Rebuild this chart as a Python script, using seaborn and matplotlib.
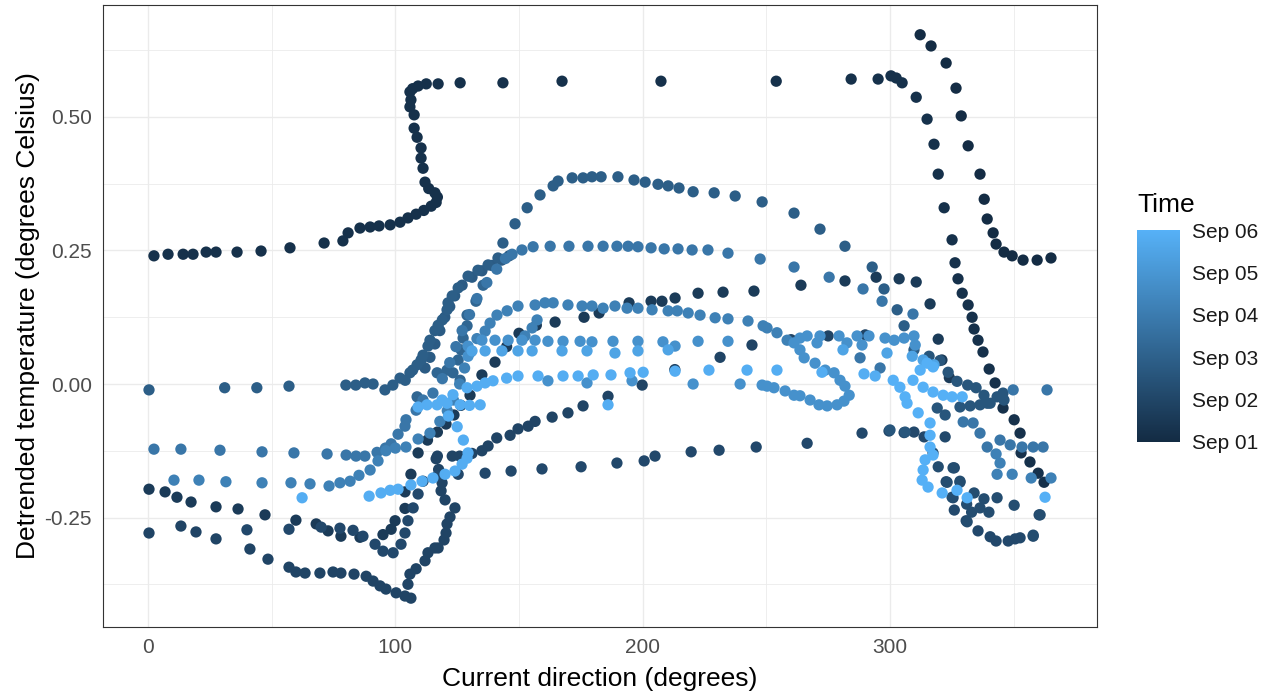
import numpy as np
import pandas as pd
import matplotlib
matplotlib.use("Agg")
import matplotlib.pyplot as plt
import seaborn as sns
from matplotlib.colors import LinearSegmentedColormap, Normalize
import matplotlib.colorbar as mcolorbar

# ---------------- data (direction in degrees, detrended temperature, time in days after Sep 01) -------------
seg_a_time = 0.05
seg_a = [(312.2,0.654),(316.6,0.633),(322.7,0.601),(326.7,0.554),(328.8,0.502),(331.6,0.446),(336.4,0.393),
         (338.1,0.346),(339.3,0.309),(341.7,0.283),(342.9,0.262),(346.1,0.247),(349.4,0.240),(353.8,0.232),
         (359.5,0.232),(365.1,0.236)]

seg_b_time = 0.25
seg_b = [(2.4,0.240),(8.1,0.243),(14.2,0.243),(18.2,0.243),(23.5,0.247),(27.5,0.247),(36.0,0.247),(45.7,0.249),
         (57.4,0.255),(71.2,0.264),(78.8,0.268),(80.9,0.283),(85.7,0.292),(89.8,0.294),(93.4,0.296),(97.9,0.298),
         (101.9,0.303),(105.1,0.311),(108.4,0.318),(111.5,0.325),(114.5,0.333),(116.5,0.340),(117.0,0.350),
         (116.0,0.358),(113.5,0.366),(112.0,0.378),(111.2,0.404),(110.4,0.423),(110.4,0.442),(108.8,0.462),
         (107.6,0.479),(107.6,0.504),(105.9,0.519),(106.3,0.532),(105.9,0.547),(107.0,0.553),(109.2,0.558),
         (112.5,0.562),(117.3,0.562),(126.2,0.564),(143.5,0.564),(167.4,0.567),(207.4,0.567),(254.0,0.567),
         (284.3,0.571),(295.2,0.571),(300.4,0.577),(302.5,0.573),(304.9,0.564),(310.6,0.537),(315.0,0.496),
         (317.8,0.449),(319.5,0.393),(321.9,0.330),(325.1,0.270),(326.3,0.227),(327.5,0.197),(329.2,0.170),
         (331.6,0.148),(333.2,0.125),(334.0,0.103),(335.6,0.082),(337.6,0.060),(340.1,0.028),(342.5,0.002),
         (345.7,-0.045),(350.2,-0.067),(352.6,-0.092),(353.0,-0.129),(356.6,-0.146),(359.9,-0.167),(362.3,-0.184)]

seg_c_time = 0.6
seg_c = [(0.4,-0.197),(6.9,-0.202),(11.7,-0.212),(17.4,-0.221),(27.5,-0.230),(36.4,-0.234),(47.3,-0.245),
         (59.8,-0.255),(68.0,-0.262),(72.8,-0.275),(78.0,-0.285),(85.7,-0.287),(95.0,-0.282),(98.3,-0.272),
         (99.9,-0.256),(103.9,-0.233),(103.9,-0.202),(106.3,-0.169),(109.2,-0.129),(113.0,-0.105),(117.0,-0.090),
         (120.5,-0.075),(123.7,-0.058),(126.5,-0.040),(130.2,-0.021),(135.0,0.017),(140.3,0.041),(145.0,0.070),
         (150.0,0.095),(157.0,0.110),(164.6,0.116),(176.3,0.125),(182.4,0.133),(194.5,0.152),(203.4,0.155),
         (207.8,0.155),(213.1,0.161),(222.4,0.170),(232.5,0.172),(245.0,0.174),(264.0,0.185),(281.8,0.193),
         (294.4,0.200),(303.7,0.197),(310.6,0.191),(316.2,0.150),(319.5,0.084),(321.0,0.045),(324.0,0.012)]

seg_d_time = 0.95
seg_d = [(0.4,-0.279),(13.3,-0.266),(19.4,-0.277),(27.5,-0.290),(41.2,-0.309),(48.5,-0.328),(57.0,-0.343),
         (59.8,-0.352),(63.5,-0.354),(69.5,-0.354),(74.8,-0.352),(78.0,-0.354),(83.3,-0.356),(88.2,-0.360),
         (91.0,-0.369),(93.8,-0.378),(96.2,-0.384),(100.3,-0.391),(103.9,-0.397),(106.3,-0.401),(105.1,-0.375),
         (105.9,-0.356),(108.4,-0.346),(112.0,-0.331),(113.2,-0.316),(116.0,-0.307),(117.3,-0.307),(119.7,-0.292),
         (120.5,-0.279),(120.9,-0.262),(122.1,-0.249),(124.1,-0.232),(120.1,-0.217),(118.5,-0.200),(118.9,-0.185),
         (117.5,-0.160),(116.5,-0.140),(117.0,-0.135),(123.0,-0.135),(126.0,-0.135),(131.0,-0.130),(135.0,-0.125),
         (137.5,-0.116),(141.0,-0.101),(146.4,-0.096),(149.6,-0.084),(153.7,-0.079),(156.5,-0.070),(163.4,-0.062),
         (169.8,-0.054),(175.9,-0.041),(186.0,-0.023),(199.8,-0.002),(213.0,0.027),(231.3,0.050),(244.2,0.073),
         (260.0,0.083),(275.0,0.090),(290.0,0.092)]

seg_e_time = 1.1
seg_e = [(40.0,-0.273),(57.0,-0.272),(70.0,-0.268),(77.6,-0.270),(82.9,-0.274),(86.9,-0.285),(91.8,-0.300),
         (95.0,-0.313),(99.1,-0.316),(102.3,-0.300),(103.9,-0.279),(105.1,-0.256),(107.2,-0.232),(109.2,-0.206),
         (111.2,-0.182),(117.0,-0.172),(125.4,-0.169),(136.3,-0.167),(146.8,-0.163),(159.3,-0.159),(175.1,-0.155),
         (189.6,-0.148),(200.6,-0.144),(205.0,-0.135),(219.6,-0.127),(230.9,-0.124),(245.9,-0.118),(266.5,-0.111),
         (288.7,-0.092),(299.6,-0.088),(305.7,-0.091),(309.7,-0.090),(313.8,-0.099),(322.3,-0.099),(326.0,-0.157),
         (322.7,-0.183),(325.5,-0.213),(326.0,-0.236),(330.8,-0.256),(335.6,-0.275),(340.5,-0.286),(342.9,-0.294),
         (347.8,-0.294),(350.6,-0.290),(352.6,-0.288),(357.9,-0.285),(360.3,-0.245)]

seg_f_time = 1.25
seg_f = [(331.0,-0.225),(333.0,-0.240),(336.4,-0.232),(334.0,-0.204),(328.3,-0.182),(338.0,-0.215),(340.0,-0.240),
         (343.3,-0.213),(350.2,-0.227),(360.7,-0.245),(317.4,-0.129),(319.5,-0.155),(325.5,-0.157),(323.1,-0.184),
         (328.3,-0.184),(325.1,-0.212),(331.2,-0.258),(357.9,-0.283)]

seg_g_time = 1.6
seg_g = [(315.8,0.052),(320.2,0.044),(323.5,0.022),(327.1,0.005),(331.4,-0.002),(334.8,-0.007),(338.0,-0.021),
         (339.3,-0.036),(343.3,-0.024),(345.7,-0.017),(346.1,-0.030),(328.3,-0.043),(332.4,-0.041),(336.4,-0.039),
         (340.5,-0.036),(319.1,-0.045),(322.3,-0.058),(300.0,-0.086),(306.1,-0.090)]

seg_h_time = 1.9
seg_h = [(0.4,-0.011),(31.0,-0.007),(44.0,-0.007),(57.0,-0.004),(80.0,-0.002),(84.0,-0.002),(87.7,0.002),
         (91.0,0.000),(95.8,-0.011),(99.0,-0.002),(101.9,0.011),(104.0,0.007),(105.9,0.021),(107.0,0.026),
         (108.8,0.036),(110.4,0.045),(111.2,0.054),(113.2,0.071),(114.0,0.082),(116.0,0.100),(117.3,0.110),
         (119.0,0.120),(120.9,0.139),(121.3,0.152),(123.0,0.165),(125.4,0.180),(129.4,0.202),(133.4,0.213),
         (137.5,0.223),(141.5,0.236),(143.5,0.264),(148.4,0.300),(153.3,0.330),(158.5,0.354),(163.8,0.371),
         (165.8,0.380),(171.5,0.386),(175.9,0.386),(179.5,0.388),(183.2,0.388),(190.0,0.388),(196.5,0.382),
         (201.0,0.378),(206.2,0.374),(210.3,0.371),(214.7,0.367),(220.4,0.360),(228.9,0.358),(237.4,0.352),
         (248.3,0.341),(261.2,0.320),(271.7,0.290),(281.8,0.258),(292.8,0.219),(297.6,0.178),(302.9,0.139),
         (305.7,0.109),(309.7,0.064)]

seg_h2_time = 1.8
seg_h2 = [(112.0,0.030),(114.0,0.050),(116.0,0.075),(118.0,0.100),(120.0,0.125),(122.0,0.145),(124.0,0.165),
          (127.0,0.185),(131.0,0.200),(135.0,0.212),(139.0,0.222),(143.0,0.232),(146.0,0.240)]

seg_i_time = 2.2
seg_i = [(108.8,-0.024),(116.9,0.021),(120.9,0.026),(123.3,0.021),(126.2,0.007),(125.4,0.045),(126.6,0.064),
         (127.4,0.086),(129.0,0.109),(129.0,0.129),(132.6,0.155),(135.5,0.185)]

seg_j_time = 2.8
seg_j = [(2.4,-0.122),(13.3,-0.122),(29.1,-0.124),(46.1,-0.127),(59.0,-0.129),(72.4,-0.131),(80.1,-0.133),
         (84.1,-0.135),(87.7,-0.135),(92.6,-0.128),(96.0,-0.120),(98.3,-0.112),(101.1,-0.094),(103.9,-0.079),
         (104.3,-0.067),(108.4,-0.049),(111.2,-0.030),(115.2,-0.017),(119.0,0.010),(122.0,0.040),(124.5,0.070),
         (127.0,0.100),(130.0,0.130),(133.0,0.160),(137.0,0.190),(141.0,0.215),(144.5,0.235),(147.2,0.243),
         (151.2,0.251),(155.7,0.257),(162.6,0.258),(170.2,0.258),(177.9,0.258),(184.0,0.258),(189.6,0.258),
         (194.1,0.258),(198.1,0.257),(203.4,0.255),(208.7,0.253),(214.3,0.253),(220.0,0.251),(226.4,0.251),
         (234.5,0.245),(247.5,0.234),(261.2,0.219),(275.4,0.200),(289.1,0.178),(296.8,0.155),(309.3,0.131),
         (287.9,0.049),(296.0,0.030),(329.6,-0.071),(333.6,-0.073),(336.4,-0.092),(339.3,-0.118),(344.5,-0.105),
         (348.6,-0.114),(353.4,-0.118),(357.9,-0.118),(361.9,-0.118),(349.8,-0.011),(363.5,-0.011)]

seg_k_time = 3.2
seg_k = [(10.5,-0.180),(20.6,-0.180),(31.5,-0.183),(46.1,-0.185),(57.8,-0.185),(65.5,-0.187),(73.2,-0.191),
         (77.6,-0.185),(81.7,-0.182),(85.3,-0.171),(89.8,-0.161),(93.0,-0.144),(96.2,-0.125),(100.0,-0.120),
         (104.3,-0.118),(109.2,-0.103),(114.0,-0.092),(118.0,-0.070),(121.0,-0.050),(123.5,-0.030),(126.0,0.000),
         (128.0,0.030),(130.5,0.060),(133.0,0.085),(136.3,0.099),(138.3,0.114),(141.1,0.129),(145.2,0.137),
         (149.6,0.146),(156.5,0.148),(160.5,0.152),(163.8,0.152),(169.8,0.148),(175.5,0.146),(179.5,0.146),
         (184.0,0.142),(188.8,0.146),(193.7,0.142),(198.1,0.142),(203.8,0.139),(210.3,0.137),(214.0,0.137),
         (218.4,0.133),(223.2,0.129),(229.3,0.124),(234.5,0.122),(242.6,0.118),(248.7,0.109),(250.3,0.105),
         (254.3,0.096),(258.4,0.082),(152.4,0.090),(155.3,0.105),(157.3,0.120),
         (342.9,-0.131),(344.5,-0.148),(343.3,-0.169),(349.4,-0.169),(357.1,-0.176),(365.1,-0.176)]

seg_l_time = 3.8
seg_l = [(129.4,0.052),(129.4,0.071),(135.0,0.082),(140.3,0.082),(145.6,0.082),(151.2,0.082),(156.5,0.082),
         (161.7,0.080),(167.8,0.080),(174.7,0.080),(179.5,0.079),(188.0,0.080),(198.1,0.080),(208.2,0.079),
         (213.1,0.071),(222.4,0.080),(234.5,0.080),(261.2,0.077),(263.6,0.086),(266.5,0.090),(270.5,0.077),
         (271.7,0.090),(279.4,0.090),(282.6,0.077),(286.7,0.090),(288.7,0.073),(291.5,0.090),(298.0,0.086),
         (301.7,0.082),(305.7,0.086),(309.7,0.090),(310.2,0.073),
         (161.7,0.006),(177.5,0.002),(195.7,0.006),(220.4,0.000),(239.4,0.000),(248.3,-0.002),(250.3,-0.004),
         (253.1,-0.007),(257.6,-0.013),(261.2,-0.021),(263.6,-0.022),(267.7,-0.030),(271.3,-0.039),(274.6,-0.041),
         (278.6,-0.039),(281.4,-0.032),(283.5,-0.021),(281.8,-0.004),(279.8,0.007),(277.4,0.021),(273.8,0.026),
         (269.7,0.039),(265.3,0.049),(263.6,0.064)]

seg_m_time = 4.5
seg_m = [(131.0,0.062),(136.3,0.062),(143.1,0.062),(149.6,0.062),(155.3,0.062),(167.4,0.062),(177.5,0.062),
         (188.8,0.058),(198.1,0.062),(210.3,0.064),(281.0,0.064),(298.8,0.058),(309.0,0.052),(313.4,0.045),
         (317.8,0.036)]

seg_n_time = 4.85
seg_n = [(62.3,-0.213),(89.4,-0.210),(94.2,-0.204),(97.9,-0.199),(101.1,-0.197),(106.3,-0.189),(110.8,-0.182),
         (115.2,-0.176),(120.1,-0.169),(124.1,-0.163),(127.0,-0.150),(129.0,-0.139),(129.4,-0.129),(127.5,-0.105),
         (125.0,-0.080),(121.5,-0.060),
         (109.2,-0.043),(112.8,-0.039),(116.9,-0.039),(120.9,-0.036),(126.2,-0.039),(130.0,-0.040),(134.3,-0.039),
         (118.9,-0.030),(123.3,-0.020),(129.0,-0.007),(133.0,-0.004),(136.3,0.002),(139.5,0.006),(145.0,0.011),
         (149.6,0.015),(157.7,0.015),(167.8,0.015),(173.9,0.015),(180.0,0.017),(187.2,0.017),(194.9,0.021),
         (200.2,0.022),(213.1,0.024),(226.8,0.026),(242.2,0.026),(254.3,0.026),(272.5,0.022),(289.5,0.019),
         (294.0,0.015),(186.0,-0.039)]

seg_o_time = 4.95
seg_o = [(301.3,0.007),(304.0,-0.006),(306.1,-0.024),(306.9,-0.036),(309.3,0.007),(312.2,0.026),(315.0,0.039),
         (317.4,0.032),(313.4,-0.006),(317.4,-0.015),(321.5,-0.021),(325.1,-0.024),(329.2,-0.024),(311.4,-0.054),
         (316.2,-0.073),(316.2,-0.096),(316.2,-0.118),(317.4,-0.133),(314.2,-0.142),(313.4,-0.161),(313.0,-0.180),
         (315.4,-0.193),(321.1,-0.204),(327.1,-0.199),(331.2,-0.213),(362.7,-0.212)]

segments = [(seg_a_time, seg_a), (seg_b_time, seg_b), (seg_c_time, seg_c), (seg_d_time, seg_d),
            (seg_e_time, seg_e), (seg_f_time, seg_f), (seg_g_time, seg_g), (seg_h2_time, seg_h2),
            (seg_h_time, seg_h), (seg_i_time, seg_i), (seg_j_time, seg_j), (seg_k_time, seg_k),
            (seg_l_time, seg_l), (seg_m_time, seg_m), (seg_n_time, seg_n), (seg_o_time, seg_o)]

x_ticks = [0, 100, 200, 300]
y_ticks = [-0.25, 0.0, 0.25, 0.50]
y_tick_labels = ["-0.25", "0.00", "0.25", "0.50"]
time_ticks = [0, 1, 2, 3, 4, 5]
time_labels = ["Sep 01", "Sep 02", "Sep 03", "Sep 04", "Sep 05", "Sep 06"]

rows = []
for t, pts in segments:
    for px, py in pts:
        rows.append((px, py, t))
df = pd.DataFrame(rows, columns=["direction", "temp", "time"]).sort_values("time", kind="stable")

# ---------------- plotting -------------
sns.set_theme(style="white")
plt.rcParams['font.family'] = ['Liberation Sans', 'DejaVu Sans']

W, H = 1269, 698
fig = plt.figure(figsize=(W / 100, H / 100), dpi=100)
ax = fig.add_axes([103 / W, 71 / H, 994 / W, 622 / H])

cmap = LinearSegmentedColormap.from_list("gg", ["#132B43", "#56B1F7"])
norm = Normalize(vmin=0, vmax=5)

sns.scatterplot(data=df, x="direction", y="temp", hue="time", palette=cmap, hue_norm=(0, 5),
                s=66, linewidth=0, legend=False, ax=ax, zorder=3)

ax.set_xticks(x_ticks)
ax.set_xticklabels([str(v) for v in x_ticks])
ax.set_yticks(y_ticks)
ax.set_yticklabels(y_tick_labels)
ax.set_xticks([50, 150, 250, 350], minor=True)
ax.set_yticks([-0.375, -0.125, 0.125, 0.375, 0.625], minor=True)
ax.set_xlim(-18.2, 383.7)
ax.set_ylim(-0.455, 0.7097)
ax.grid(True, which="major", color="#ebebeb", linewidth=1.0, zorder=0)
ax.grid(True, which="minor", color="#ebebeb", linewidth=0.6, zorder=0)
ax.set_axisbelow(True)
ax.tick_params(axis="both", which="major", direction="out", length=3.5, width=0.8, color="#333333",
               labelsize=15, labelcolor="#4d4d4d", pad=4.5)
ax.tick_params(axis="both", which="minor", length=0)
for sp in ax.spines.values():
    sp.set_color("#333333")
    sp.set_linewidth(0.8)
ax.set_xlabel("")
ax.set_ylabel("")

fig.text(600 / W, 1 - 679 / H, "Current direction (degrees)", ha="center", va="center", fontsize=19, color="black")
fig.text(28 / W, 1 - 316 / H, "Detrended temperature (degrees Celsius)", ha="center", va="center",
         rotation=90, fontsize=19, color="black")

# colour bar legend
cax = fig.add_axes([1137 / W, 1 - 442 / H, 43 / W, 212 / H])
cb = mcolorbar.ColorbarBase(cax, cmap=cmap, norm=norm, orientation="vertical")
cb.outline.set_visible(False)
cb.set_ticks(time_ticks)
cb.set_ticklabels(time_labels)
cax.tick_params(axis="y", direction="in", left=True, right=True, labelleft=False, labelright=True,
                color="white", length=5.5, width=1.0, labelsize=15, labelcolor="#1a1a1a", pad=9)
fig.text(1137 / W, 1 - 205 / H, "Time", ha="left", va="center", fontsize=19, color="black")

fig.savefig("out.png", dpi=100)
